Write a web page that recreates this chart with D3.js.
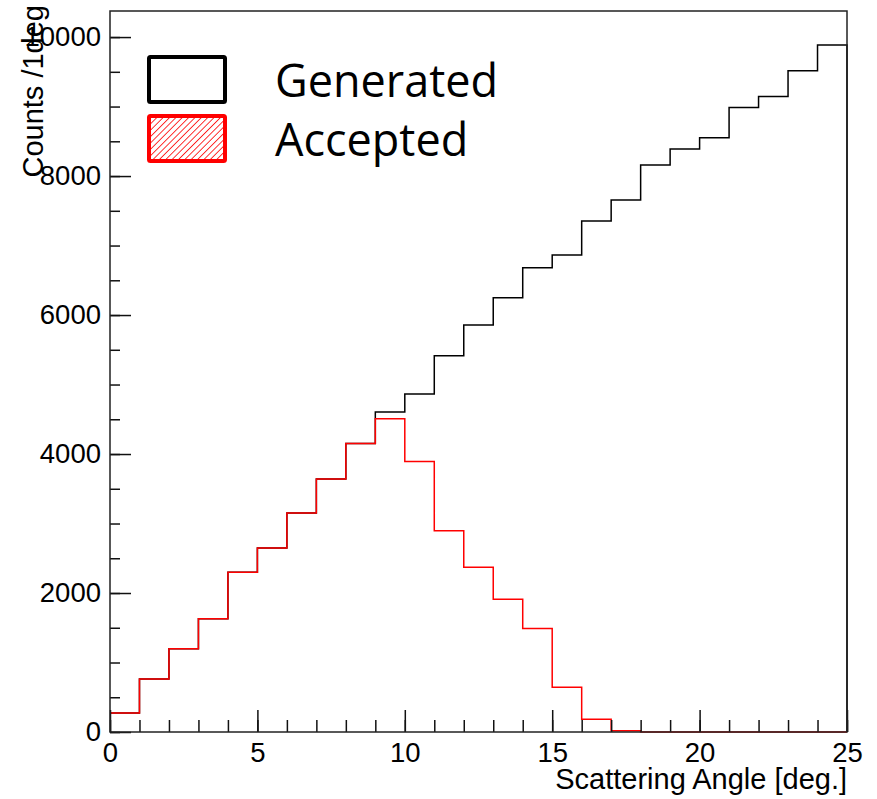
<!DOCTYPE html>
<html>
<head>
<meta charset="utf-8">
<script src="https://cdn.jsdelivr.net/npm/d3@7"></script>
<style>
  body { margin: 0; background: #fff; }
  svg { display: block; }
</style>
</head>
<body>
<div id="chart"></div>
<script>
/** Data. One bin per degree, 0..25. */
const BIN_EDGES = d3.range(0, 26);
const GENERATED = [273, 763, 1199, 1630, 2297, 2647, 3151, 3640, 4153, 4604,
    4863, 5414, 5856, 6249, 6681, 6863, 7352, 7654, 8158, 8388,
    8551, 8988, 9146, 9515, 9885];
const ACCEPTED = [273, 763, 1199, 1630, 2297, 2647, 3151, 3640, 4153, 4508,
    3894, 2897, 2369, 1910, 1490, 643, 182, 18, 0, 0,
    0, 0, 0, 0, 0];
const X_TICKS = [0, 5, 10, 15, 20, 25];
const Y_TICKS = [0, 2000, 4000, 6000, 8000, 10000];
const LEGEND = ["Generated", "Accepted"];

/** Layout. */
const WIDTH = 877;
const HEIGHT = 799;
const MARGIN = {left: 110, right: 30, top: 11, bottom: 67};
const VIEW_WIDTH = WIDTH - MARGIN.left - MARGIN.right;
const VIEW_HEIGHT = HEIGHT - MARGIN.top - MARGIN.bottom;
const AXIS_FONT = "Liberation Sans, Arial, sans-serif";

const x = d3.scaleLinear()
    .domain([0, 25])
    .range([0, VIEW_WIDTH]);
const y = d3.scaleLinear()
    .domain([0, 10375])
    .range([VIEW_HEIGHT, 0]);

const svg = d3.select("#chart")
    .append("svg")
    .attr("width", WIDTH)
    .attr("height", HEIGHT);

// hatch for the legend swatch
svg.append("defs")
    .append("pattern")
    .attr("id", "hatch")
    .attr("patternUnits", "userSpaceOnUse")
    .attr("width", 4.5)
    .attr("height", 4.5)
    .attr("patternTransform", "rotate(45)")
    .append("line")
    .attr("x1", 0).attr("y1", 0)
    .attr("x2", 0).attr("y2", 4.5)
    .attr("stroke", "#ff0000")
    .attr("stroke-width", 1.6);

const g = svg.append("g")
    .attr("transform", `translate(${MARGIN.left},${MARGIN.top})`);

// step outline of a histogram, closed down to zero at the right edge
function histPoints(values) {
    const pts = values.map((v, i) => [BIN_EDGES[i], v]);
    pts.push([BIN_EDGES[values.length], values[values.length - 1]]);
    pts.push([BIN_EDGES[values.length], 0]);
    return pts;
}

const step = d3.line()
    .curve(d3.curveStepAfter)
    .x(d => x(d[0]))
    .y(d => y(d[1]));

g.append("path")
    .attr("d", step(histPoints(GENERATED)))
    .attr("fill", "none")
    .attr("stroke", "#000")
    .attr("stroke-width", 1.5);

g.append("path")
    .attr("d", step(histPoints(ACCEPTED)))
    .attr("fill", "none")
    .attr("stroke", "#ff0000")
    .attr("stroke-width", 1.5);

/** Axes, ticks pointing inward like ROOT does. */
const xMinor = d3.axisBottom(x)
    .tickValues(d3.range(0, 26))
    .tickSizeInner(-12)
    .tickSizeOuter(0)
    .tickFormat("");
const xMajor = d3.axisBottom(x)
    .tickValues(X_TICKS)
    .tickSizeInner(-22)
    .tickSizeOuter(0)
    .tickPadding(10)
    .tickFormat(d3.format("d"));
const yMinor = d3.axisLeft(y)
    .tickValues(d3.range(0, 10001, 500))
    .tickSizeInner(-10)
    .tickSizeOuter(0)
    .tickFormat("");
const yMajor = d3.axisLeft(y)
    .tickValues(Y_TICKS)
    .tickSizeInner(-21)
    .tickSizeOuter(0)
    .tickPadding(9)
    .tickFormat(d3.format("d"));

[xMinor, xMajor].forEach(ax => {
    g.append("g")
        .attr("transform", `translate(0,${VIEW_HEIGHT})`)
        .call(ax);
});
[yMinor, yMajor].forEach(ax => {
    g.append("g").call(ax);
});

g.selectAll(".tick line")
    .attr("stroke", "#111")
    .attr("stroke-width", 1.5);
g.selectAll(".domain").remove();
g.selectAll(".tick text")
    .attr("font-family", AXIS_FONT)
    .attr("font-size", 27.5)
    .attr("fill", "#000");

// frame
g.append("rect")
    .attr("x", 0)
    .attr("y", 0)
    .attr("width", VIEW_WIDTH)
    .attr("height", VIEW_HEIGHT)
    .attr("fill", "none")
    .attr("stroke", "#222")
    .attr("stroke-width", 1.5);

// axis titles, right aligned at the axis end
svg.append("text")
    .attr("x", MARGIN.left + VIEW_WIDTH)
    .attr("y", 789)
    .attr("text-anchor", "end")
    .attr("font-family", AXIS_FONT)
    .attr("font-size", 29)
    .text("Scattering Angle [deg.]");

svg.append("text")
    .attr("transform", "translate(43,5) rotate(-90)")
    .attr("text-anchor", "end")
    .attr("font-family", AXIS_FONT)
    .attr("font-size", 29)
    .text("Counts /1deg");

/** Legend. */
const legend = svg.append("g")
    .attr("transform", "translate(147,55)");
const swatchStroke = ["#000", "#ff0000"];
const swatchFill = ["none", "url(#hatch)"];

LEGEND.forEach((label, i) => {
    const row = legend.append("g")
        .attr("transform", `translate(0,${i * 59})`);
    row.append("rect")
        .attr("x", 2)
        .attr("y", 2)
        .attr("width", 76)
        .attr("height", 45)
        .attr("rx", 1.5)
        .attr("fill", swatchFill[i])
        .attr("stroke", swatchStroke[i])
        .attr("stroke-width", 4);
    row.append("text")
        .attr("x", 128)
        .attr("y", 42)
        .attr("font-family", "Open Sans, Noto Sans, sans-serif")
        .attr("font-size", 45)
        .attr("fill", "#000")
        .text(label);
});
</script>
</body>
</html>
